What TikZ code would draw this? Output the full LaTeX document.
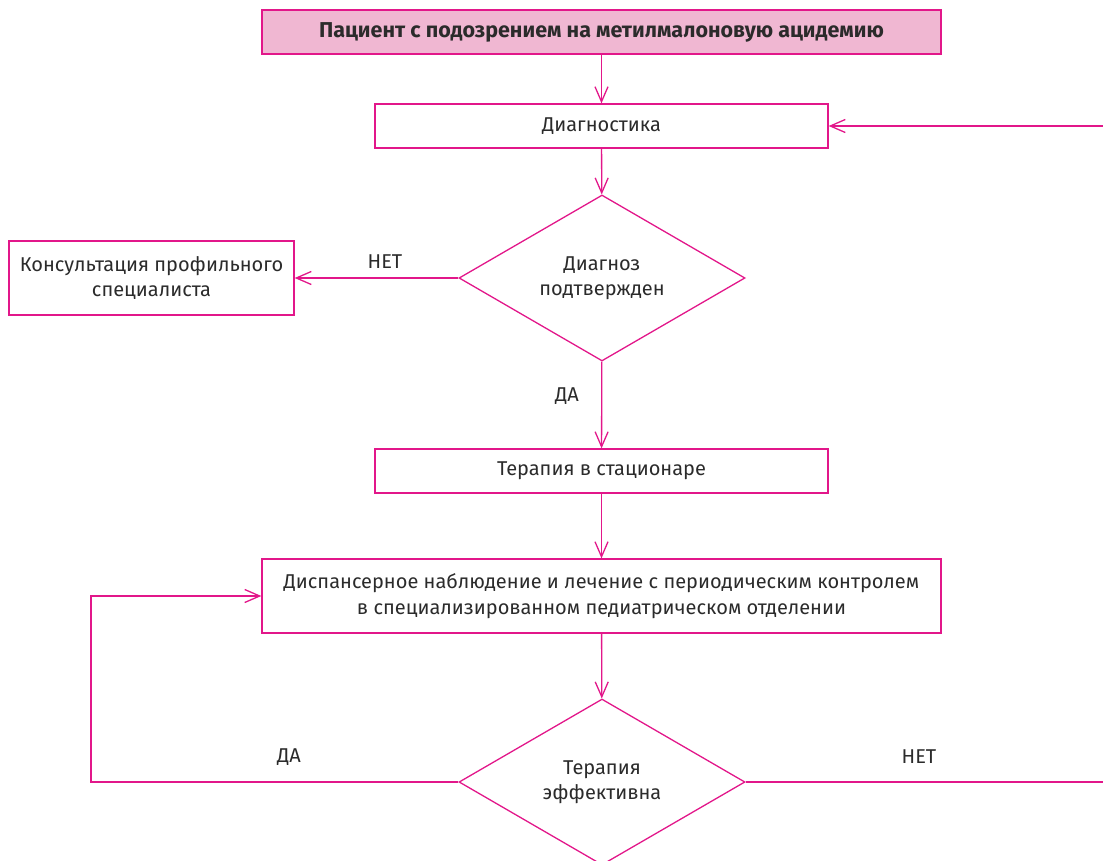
\documentclass[tikz,border=0pt]{standalone}
\usepackage{fontspec}
\setmainfont{Fira Sans}
\usetikzlibrary{shapes.geometric,arrows.meta}
\definecolor{mag}{HTML}{E2178A}
\definecolor{pinkfill}{HTML}{F0B7D2}
\definecolor{txt}{HTML}{2B2B2B}
\begin{document}
\begin{tikzpicture}[x=1pt,y=-1pt,
  every node/.style={text=txt,font=\fontsize{20}{25.5}\selectfont},
  box/.style={draw=mag,line width=1.3pt,rectangle,inner sep=0pt,align=center},
  dia/.style={draw=mag,line width=1.3pt,diamond,shape aspect=1.72,minimum width=286pt,minimum height=166pt,inner sep=0pt,align=center},
  conn/.style={draw=mag,line width=1.3pt,-{Straight Barb[length=15pt,width=13pt,line width=1.3pt]}},
  lab/.style={inner sep=0pt}]
\useasboundingbox (0,0) rectangle (1103,861);
\clip (0,0) rectangle (1103,861);
\node[box,fill=pinkfill,minimum width=679pt,minimum height=44pt,font=\fontsize{21.5}{26}\selectfont\bfseries] (title) at (601.5,32) {Пациент с подозрением на метилмалоновую ацидемию};
\node[box,minimum width=453pt,minimum height=44pt] (diag) at (601.5,126) {Диагностика};
\node[dia] (d1) at (602,278) {Диагноз\\подтвержден};
\node[box,minimum width=285pt,minimum height=74pt] (kons) at (151.5,278) {Консультация профильного\\специалиста};
\node[box,minimum width=453pt,minimum height=44pt] (ter) at (601.5,471) {Терапия в стационаре};
\node[box,minimum width=679pt,minimum height=74pt] (disp) at (601.5,596) {Диспансерное наблюдение и лечение с периодическим контролем\\в специализированном педиатрическом отделении};
\node[dia] (d2) at (602,782) {Терапия\\эффективна};
\coordinate (lc) at (91,782);
\coordinate (rc) at (1110,782);
\node[lab] at (385,262) {НЕТ};
\node[lab] at (567,396) {ДА};
\node[lab] at (289,757) {ДА};
\node[lab] at (919,757) {НЕТ};
\path[conn] (title) -- (diag);
\path[conn] (diag) -- (d1);
\path[conn] (d1) -- (kons);
\path[conn] (d1) -- (ter);
\path[conn] (ter) -- (disp);
\path[conn] (disp) -- (d2);
\path[conn] (d2.west) -- (lc) |- (disp.west);
\path[conn] (d2.east) -- (rc) |- (diag.east);
\end{tikzpicture}
\end{document}
